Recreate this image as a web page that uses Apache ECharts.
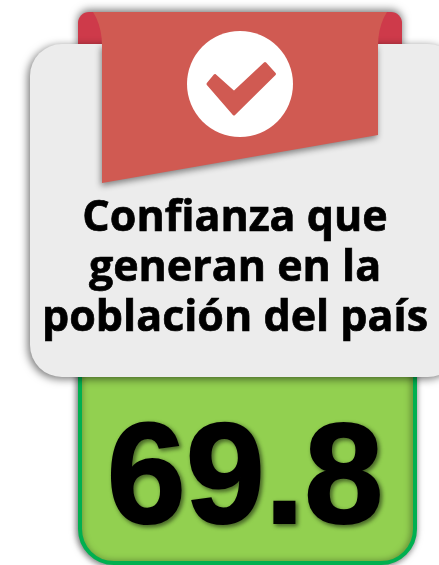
<!DOCTYPE html>
<html><head><meta charset="utf-8">
<style>html,body{margin:0;padding:0;background:#fff}#c{width:439px;height:565px}</style>
<script src="https://cdn.jsdelivr.net/npm/echarts@6/dist/echarts.min.js"></script>
</head><body><div id="c"></div>
<script>
const titleLines = ["Confianza que", "generan en la", "población del país"];
const indicatorValue = ["69.8"];
const chart = echarts.init(document.getElementById('c'), null, {renderer:'canvas'});
const red='#D05A52', dark='#CE3A4A';
const sh=(b,x,y,c)=>({shadowBlur:b,shadowOffsetX:x,shadowOffsetY:y,shadowColor:c||'rgba(0,0,0,0.55)'});
const quad=(a,b,c)=>[0,.2,.4,.6,.8,1].map(t=>[(1-t)*(1-t)*a[0]+2*t*(1-t)*b[0]+t*t*c[0],(1-t)*(1-t)*a[1]+2*t*(1-t)*b[1]+t*t*c[1]]);
const ribbonTop=[...quad([102,46],[102,26],[93,12]),...quad([387,12],[378,26],[378,46])];
chart.setOption({
  animation:false,
  graphic:{elements:[
    {type:'rect',z:1,shape:{x:80,y:340,width:335,height:223,r:[0,0,34,34]},
      style:{fill:'#92D050',stroke:'#00B050',lineWidth:4,...sh(7,-1,1)}},
    {type:'rect',z:2,shape:{x:78,y:12,width:324,height:40,r:[11,11,0,0]},
      style:{fill:dark,...sh(8,0,-2)}},
    {type:'rect',z:3,shape:{x:30,y:44,width:430,height:333,r:32},
      style:{fill:'#ECECEC',...sh(8,-2,2)}},
    {type:'polygon',z:4,shape:{points:[[102,44],[378,44],[378,135],[102,183]]},
      style:{fill:red,...sh(6,-1,3,'rgba(0,0,0,0.45)')}},
    {type:'polygon',z:5,shape:{points:ribbonTop},style:{fill:red}},
    {type:'circle',z:6,shape:{cx:240,cy:84,r:53},style:{fill:'#fff'}},
    {type:'polygon',z:7,shape:{points:[[208,84],[215,75.5],[234,92.5],[265,63.5],[274.5,74],[234,114]]},
      style:{fill:red,stroke:red,lineWidth:3,lineJoin:'round'}},
    ...titleLines.map((t,i)=>({type:'text',z:8,style:{text:t,x:235,y:[219,269,319][i],align:'center',verticalAlign:'middle',
      font:'bold 43px "Open Sans"',fill:'#000',stroke:'#000',lineWidth:0.7}})),
    {type:'text',z:2,style:{text:indicatorValue[0],x:245,y:484,align:'center',verticalAlign:'middle',
      font:'bold 142px "Liberation Sans"',fill:'#000',stroke:'#000',lineWidth:2,textShadowBlur:4,textShadowOffsetX:2,textShadowOffsetY:2,textShadowColor:'rgba(0,0,0,0.5)'}}
  ]}
});
</script></body></html>
